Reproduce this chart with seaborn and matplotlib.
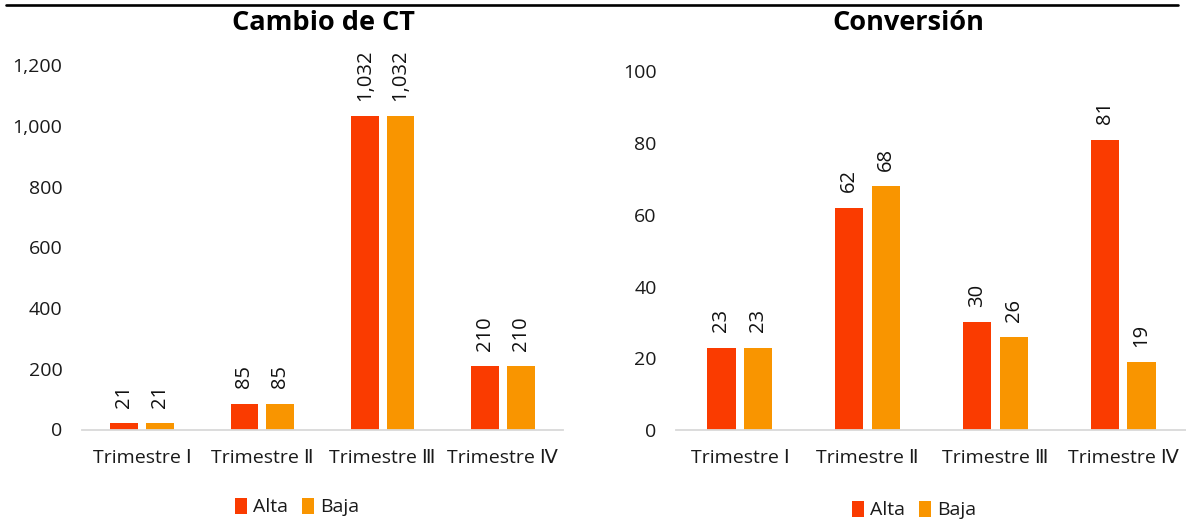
import matplotlib
matplotlib.use("Agg")
import matplotlib.pyplot as plt
from matplotlib.lines import Line2D
from matplotlib.patches import Patch
import seaborn as sns
import pandas as pd

# ---- data ----
categories = ["Trimestre Ⅰ", "Trimestre Ⅱ", "Trimestre Ⅲ", "Trimestre Ⅳ"]
series_names = ["Alta", "Baja"]
cambio_alta = [21, 85, 1032, 210]
cambio_baja = [21, 85, 1032, 210]
conv_alta = [23, 62, 30, 81]
conv_baja = [23, 68, 26, 19]
title_left = "Cambio de CT"
title_right = "Conversión"
colors = ["#FA3B00", "#F99500"]

sns.set_theme(style="white")
FAM = ["Open Sans", "DejaVu Sans", "Noto Sans CJK JP"]
plt.rcParams["font.family"] = FAM
plt.rcParams["text.color"] = "#1a1a1a"

W, H = 1186, 520
fig = plt.figure(figsize=(W / 100, H / 100), dpi=100)


def px_axes(x0, x1, ybot, ytop):
    return fig.add_axes([x0 / W, 1 - ybot / H, (x1 - x0) / W, (ybot - ytop) / H])


def make_df(a, b):
    return pd.DataFrame({
        "cat": categories * 2,
        "serie": [series_names[0]] * len(categories) + [series_names[1]] * len(categories),
        "val": list(a) + list(b),
    })


def comma(v):
    return f"{v:,}"


def draw(ax, a, b, ymax, step, width, gap):
    df = make_df(a, b)
    sns.barplot(data=df, x="cat", y="val", hue="serie", palette=colors, saturation=1,
                width=width, gap=gap, linewidth=0, ax=ax, legend=False)
    ax.set_ylim(0, ymax)
    ticks = list(range(0, ymax + 1, step))
    ax.set_yticks(ticks)
    ax.set_yticklabels([comma(v) for v in ticks])
    ax.set_xlim(-0.5, len(categories) - 0.5)
    ax.set_xlabel("")
    ax.set_ylabel("")
    for s in ["top", "right", "left"]:
        ax.spines[s].set_visible(False)
    ax.spines["bottom"].set_color("#D9D9D9")
    ax.spines["bottom"].set_linewidth(1.3)
    ax.tick_params(axis="both", length=0, labelsize=14, colors="#1a1a1a")
    ax.tick_params(axis="y", pad=14)
    ax.tick_params(axis="x", pad=14)
    ax.set_facecolor("none")
    for cont in ax.containers:
        ax.bar_label(cont, labels=[comma(int(round(v))) for v in cont.datavalues],
                     rotation=90, padding=11, fontsize=14.5, color="#111111")


ax1 = px_axes(82, 563, 429.5, 65.5)
draw(ax1, cambio_alta, cambio_baja, 1200, 200, 0.597, 0.224)

ax2 = px_axes(676, 1187, 430, 71.5)
draw(ax2, conv_alta, conv_baja, 100, 20, 0.576, 0.233)

# titles
fig.text(323 / W, 1 - 23 / H, title_left, ha="center", va="center",
         fontsize=19.5, fontweight="bold", color="black")
fig.text(908 / W, 1 - 23 / H, title_right, ha="center", va="center",
         fontsize=19.5, fontweight="bold", color="black")

# legends
handles = [Patch(facecolor=c, edgecolor="none") for c in colors]
for cx, cy in [(297, 507), (914, 510)]:
    fig.legend(handles, series_names, loc="center", bbox_to_anchor=(cx / W, 1 - cy / H),
               ncol=2, frameon=False, fontsize=14, handlelength=0.65, handleheight=0.9,
               handletextpad=0.3, columnspacing=0.7, borderpad=0, borderaxespad=0)

# top rule line
fig.add_artist(Line2D([6 / W, 1178 / W], [1 - 5.3 / H, 1 - 5.3 / H],
                      transform=fig.transFigure, color="black", lw=1.9))

fig.savefig("out.png", dpi=100, facecolor="white")
